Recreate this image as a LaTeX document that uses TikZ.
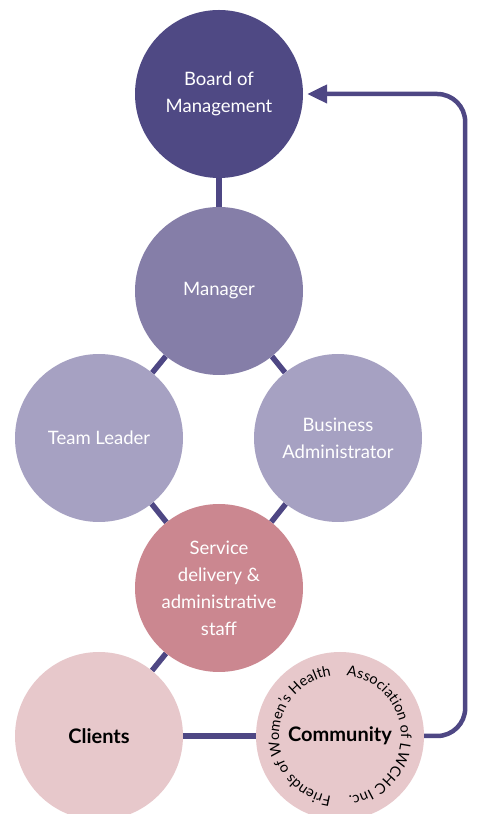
\documentclass[tikz,border=0pt]{standalone}
\usepackage{fontspec}
\setmainfont{Lato}
\usetikzlibrary{arrows.meta, backgrounds, decorations.text, calc}
\definecolor{boardcolor}{RGB}{79,73,132}
\definecolor{managercolor}{RGB}{133,126,168}
\definecolor{staffcolor}{RGB}{166,161,194}
\definecolor{servicecolor}{RGB}{203,135,144}
\definecolor{clientcolor}{RGB}{231,200,203}
\definecolor{linecolor}{RGB}{78,71,132}

\begin{document}
\begin{tikzpicture}[
    x=1pt, y=1pt,
    role/.style={circle, minimum size=168pt, inner sep=0pt, font=\fontsize{18.5}{27}\selectfont, align=center, text=white},
    public/.style={role, fill=clientcolor, text=black, font=\fontsize{20}{22}\selectfont\bfseries},
    link/.style={draw=linecolor, line width=5.5pt},
    arrow/.style={-{Triangle[length=20pt, width=18pt]}, draw=linecolor, line width=4.5pt, rounded corners=28pt, shorten >=4pt},
    ringtext/.style={decorate, decoration={text along path, text align=fit to path, text={|\fontsize{14.5}{15}\selectfont|#1}}}
]
    \useasboundingbox (0,0) rectangle (478,814);

    \node[role, fill=boardcolor] (board) at (219,720) {Board of\\Management};
    \node[role, fill=managercolor] (mgr) at (219,523) {Manager};
    \node[role, fill=staffcolor] (lead) at (99,376) {Team Leader};
    \node[role, fill=staffcolor] (admin) at (338,376) {Business\\Administrator};
    \node[role, fill=servicecolor] (staff) at (219,226) {Service\\delivery \&\\administrative\\staff};
    \node[public] (clients) at (99,78) {Clients};
    \node[public] (comm) at (340,78) {Community};

    \path[ringtext={Friends of Women's Health}] ($(comm)+(262:61)$) arc[start angle=262, end angle=99, radius=61];
    \path[ringtext={Association of LWCHC Inc.}] ($(comm)+(84:61)$) arc[start angle=84, end angle=-82, radius=61];

    \begin{scope}[on background layer]
        \draw[link] (board) -- (mgr);
        \draw[link] (mgr) -- (lead);
        \draw[link] (mgr) -- (admin);
        \draw[link] (lead) -- (staff);
        \draw[link] (admin) -- (staff);
        \draw[link] (staff) -- (clients);
        \draw[link] (clients) -- (comm);
    \end{scope}

    \draw[arrow] (comm.east) -- ++(41,0) |- (board.east);
\end{tikzpicture}
\end{document}
